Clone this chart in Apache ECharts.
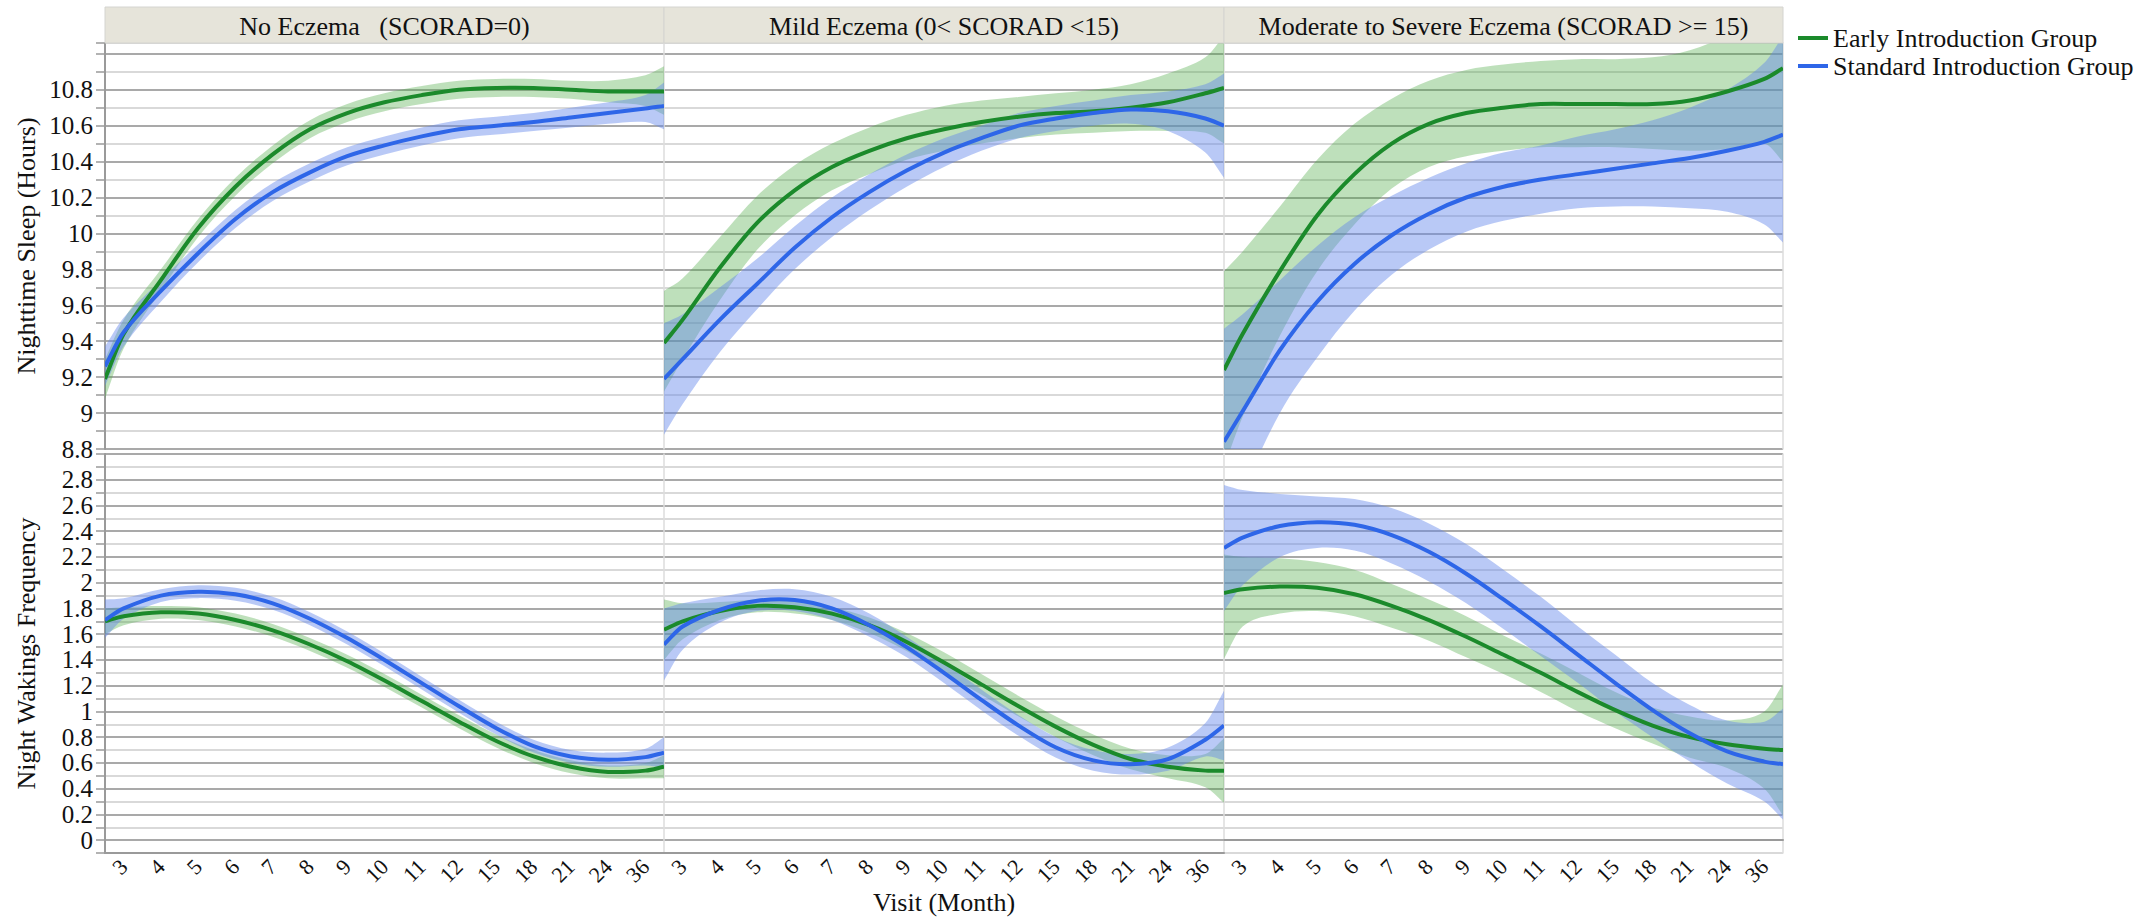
<!DOCTYPE html>
<html>
<head>
<meta charset="utf-8">
<script src="https://cdn.jsdelivr.net/npm/echarts@6.0.0/dist/echarts.min.js"></script>
<style>
html, body { margin: 0; padding: 0; background: #fff; }
#main { width: 2134px; height: 924px; }
</style>
</head>
<body>
<div id="main"></div>
<script>
var myChart = echarts.init(document.getElementById('main'), null, { renderer: 'svg' });

var visits = ['3', '4', '5', '6', '7', '8', '9', '10', '11', '12', '15', '18', '21', '24', '36'];
var panels = ['No Eczema \u00a0 (SCORAD=0)', 'Mild Eczema (0< SCORAD <15)', 'Moderate to Severe Eczema (SCORAD >= 15)'];
var groups = ['Early Introduction Group', 'Standard Introduction Group'];

// every array: value at left panel edge, at each visit, at right panel edge
// Nighttime sleep (hours)
var sleepNoEarly     = [9.19, 9.44, 9.74, 10.03, 10.26, 10.44, 10.58, 10.67, 10.73, 10.77, 10.80, 10.81, 10.81, 10.80, 10.79, 10.79, 10.79];
var sleepNoEarlyHi   = [9.30, 9.52, 9.80, 10.08, 10.31, 10.49, 10.63, 10.72, 10.78, 10.82, 10.85, 10.86, 10.86, 10.85, 10.85, 10.88, 10.93];
var sleepNoEarlyLo   = [9.08, 9.36, 9.68, 9.98, 10.21, 10.39, 10.53, 10.62, 10.68, 10.72, 10.75, 10.76, 10.76, 10.75, 10.73, 10.71, 10.66];
var sleepNoStd       = [9.26, 9.45, 9.68, 9.89, 10.08, 10.23, 10.34, 10.43, 10.49, 10.54, 10.58, 10.60, 10.62, 10.645, 10.67, 10.695, 10.71];
var sleepNoStdHi     = [9.37, 9.53, 9.74, 9.94, 10.13, 10.28, 10.39, 10.48, 10.54, 10.59, 10.63, 10.65, 10.67, 10.70, 10.73, 10.77, 10.84];
var sleepNoStdLo     = [9.15, 9.37, 9.62, 9.84, 10.03, 10.18, 10.29, 10.38, 10.44, 10.49, 10.53, 10.55, 10.57, 10.59, 10.61, 10.62, 10.58];

var sleepMildEarly   = [9.39, 9.52, 9.81, 10.06, 10.24, 10.37, 10.46, 10.53, 10.58, 10.62, 10.65, 10.67, 10.68, 10.70, 10.73, 10.78, 10.81];
var sleepMildEarlyHi = [9.68, 9.75, 9.98, 10.21, 10.38, 10.50, 10.59, 10.66, 10.71, 10.74, 10.76, 10.78, 10.80, 10.83, 10.89, 10.98, 11.10];
var sleepMildEarlyLo = [9.12, 9.30, 9.63, 9.91, 10.10, 10.24, 10.33, 10.41, 10.46, 10.50, 10.53, 10.55, 10.56, 10.57, 10.57, 10.56, 10.50];
var sleepMildStd     = [9.19, 9.30, 9.52, 9.72, 9.92, 10.09, 10.23, 10.35, 10.45, 10.53, 10.60, 10.64, 10.67, 10.69, 10.68, 10.64, 10.60];
var sleepMildStdHi   = [9.50, 9.55, 9.70, 9.86, 10.04, 10.20, 10.33, 10.44, 10.53, 10.60, 10.67, 10.71, 10.74, 10.77, 10.79, 10.83, 10.89];
var sleepMildStdLo   = [8.88, 9.05, 9.34, 9.58, 9.80, 9.98, 10.13, 10.26, 10.37, 10.46, 10.53, 10.57, 10.60, 10.61, 10.57, 10.45, 10.31];

var sleepModEarly    = [9.24, 9.44, 9.79, 10.10, 10.33, 10.50, 10.61, 10.67, 10.70, 10.72, 10.72, 10.72, 10.72, 10.74, 10.79, 10.86, 10.92];
var sleepModEarlyHi  = [9.79, 9.90, 10.15, 10.41, 10.61, 10.75, 10.85, 10.91, 10.94, 10.96, 10.97, 10.97, 10.98, 11.02, 11.10, 11.20, 11.30];
var sleepModEarlyLo  = [8.70, 8.98, 9.43, 9.79, 10.05, 10.25, 10.37, 10.43, 10.46, 10.48, 10.48, 10.48, 10.47, 10.46, 10.47, 10.50, 10.40];
var sleepModStd      = [8.84, 9.01, 9.35, 9.62, 9.83, 9.99, 10.11, 10.20, 10.26, 10.30, 10.33, 10.36, 10.39, 10.42, 10.46, 10.51, 10.55];
var sleepModStdHi    = [9.47, 9.55, 9.74, 9.93, 10.09, 10.21, 10.31, 10.39, 10.45, 10.49, 10.54, 10.58, 10.63, 10.70, 10.80, 10.95, 11.10];
var sleepModStdLo    = [8.21, 8.55, 9.00, 9.31, 9.57, 9.77, 9.91, 10.01, 10.07, 10.11, 10.14, 10.15, 10.15, 10.14, 10.12, 10.05, 9.95];

// Night wakings frequency
var wakeNoEarly      = [1.70, 1.74, 1.77, 1.76, 1.71, 1.63, 1.52, 1.39, 1.24, 1.08, 0.92, 0.77, 0.65, 0.57, 0.53, 0.54, 0.57];
var wakeNoEarlyHi    = [1.80, 1.81, 1.82, 1.81, 1.76, 1.68, 1.57, 1.44, 1.29, 1.13, 0.97, 0.82, 0.70, 0.62, 0.58, 0.60, 0.66];
var wakeNoEarlyLo    = [1.60, 1.67, 1.72, 1.71, 1.66, 1.58, 1.47, 1.34, 1.19, 1.03, 0.87, 0.72, 0.60, 0.52, 0.48, 0.48, 0.48];
var wakeNoStd        = [1.71, 1.80, 1.90, 1.93, 1.91, 1.84, 1.72, 1.57, 1.40, 1.22, 1.04, 0.87, 0.73, 0.65, 0.625, 0.645, 0.68];
var wakeNoStdHi      = [1.87, 1.88, 1.95, 1.98, 1.96, 1.89, 1.77, 1.62, 1.45, 1.27, 1.09, 0.92, 0.78, 0.70, 0.68, 0.71, 0.80];
var wakeNoStdLo      = [1.57, 1.72, 1.85, 1.88, 1.86, 1.79, 1.67, 1.52, 1.35, 1.17, 0.99, 0.82, 0.68, 0.60, 0.57, 0.58, 0.56];

var wakeMildEarly    = [1.635, 1.70, 1.78, 1.82, 1.81, 1.76, 1.67, 1.54, 1.38, 1.21, 1.04, 0.88, 0.74, 0.63, 0.57, 0.54, 0.54];
var wakeMildEarlyHi  = [1.87, 1.84, 1.85, 1.87, 1.86, 1.81, 1.73, 1.61, 1.46, 1.29, 1.12, 0.96, 0.82, 0.71, 0.66, 0.67, 0.79];
var wakeMildEarlyLo  = [1.40, 1.56, 1.71, 1.77, 1.76, 1.71, 1.61, 1.47, 1.30, 1.13, 0.96, 0.80, 0.66, 0.55, 0.48, 0.41, 0.29];
var wakeMildStd      = [1.52, 1.66, 1.79, 1.86, 1.865, 1.80, 1.67, 1.50, 1.30, 1.09, 0.89, 0.72, 0.62, 0.59, 0.63, 0.78, 0.89];
var wakeMildStdHi    = [1.80, 1.84, 1.89, 1.94, 1.95, 1.89, 1.76, 1.58, 1.38, 1.17, 0.97, 0.80, 0.70, 0.67, 0.72, 0.91, 1.16];
var wakeMildStdLo    = [1.24, 1.48, 1.69, 1.78, 1.78, 1.71, 1.58, 1.42, 1.22, 1.01, 0.81, 0.64, 0.54, 0.51, 0.54, 0.65, 0.62];

var wakeModEarly     = [1.92, 1.95, 1.97, 1.96, 1.91, 1.82, 1.71, 1.58, 1.44, 1.30, 1.15, 1.01, 0.89, 0.80, 0.745, 0.71, 0.70];
var wakeModEarlyHi   = [2.22, 2.20, 2.19, 2.16, 2.10, 1.99, 1.87, 1.74, 1.59, 1.45, 1.30, 1.15, 1.03, 0.96, 0.93, 1.00, 1.21];
var wakeModEarlyLo   = [1.41, 1.66, 1.76, 1.78, 1.74, 1.65, 1.55, 1.42, 1.29, 1.15, 1.00, 0.87, 0.75, 0.64, 0.56, 0.40, 0.19];
var wakeModStd       = [2.27, 2.35, 2.44, 2.47, 2.45, 2.37, 2.24, 2.07, 1.87, 1.66, 1.44, 1.22, 1.01, 0.83, 0.69, 0.61, 0.59];
var wakeModStdHi     = [2.76, 2.72, 2.69, 2.67, 2.65, 2.58, 2.46, 2.30, 2.10, 1.89, 1.66, 1.44, 1.22, 1.05, 0.93, 0.92, 1.02];
var wakeModStdLo     = [1.78, 1.98, 2.20, 2.27, 2.25, 2.15, 2.01, 1.84, 1.64, 1.43, 1.22, 1.00, 0.80, 0.61, 0.44, 0.30, 0.16];

var sleepTicks = { min: 8.8, max: 11.06, interval: 0.1 };
var wakeTicks = { min: -0.1, max: 3.0, interval: 0.1 };

var GREEN = '#1b8a2b', BLUE = '#2e66e8';
var GREEN_BAND = 'rgba(70,165,60,0.35)', BLUE_BAND = 'rgba(100,135,235,0.45)';
var FONT = 'Liberation Serif';

// x position of each sample: panel edge, visit centres, panel edge
var xs = [0];
visits.forEach(function (v, i) { xs.push(i + 0.5); });
xs.push(visits.length);

function pair(arr) {
    return arr.map(function (v, i) { return [xs[i], v]; });
}

// cubic hermite through pixel points, tangents from neighbours
function splinePath(pts) {
    var n = pts.length, m = [];
    for (var i = 0; i < n; i++) {
        var a = pts[Math.max(i - 1, 0)], b = pts[Math.min(i + 1, n - 1)];
        m.push((b[1] - a[1]) / (b[0] - a[0]));
    }
    var d = '';
    for (var j = 0; j < n - 1; j++) {
        var p = pts[j], q = pts[j + 1], h = (q[0] - p[0]) / 3;
        d += ' C' + (p[0] + h) + ',' + (p[1] + m[j] * h) + ' ' + (q[0] - h) + ',' + (q[1] - m[j + 1] * h) + ' ' + q[0] + ',' + q[1];
    }
    return d;
}

function toPixels(api, arr) {
    return arr.map(function (v, i) { return api.coord([xs[i], v]); });
}

function bandSeries(k, hi, lo, color, z) {
    return {
        type: 'custom', xAxisIndex: k, yAxisIndex: k, data: pair(hi), clip: true, silent: true, z: z,
        renderItem: function (params, api) {
            if (params.dataIndex !== 0) return null;
            var up = toPixels(api, hi);
            var dn = toPixels(api, lo).reverse();
            var d = 'M' + up[0][0] + ',' + up[0][1] + splinePath(up) +
                ' L' + dn[0][0] + ',' + dn[0][1] + splinePath(dn) + ' Z';
            return { type: 'path', shape: { pathData: d }, style: { fill: color, stroke: null } };
        }
    };
}

function lineSeries(k, name, vals, color, z) {
    return {
        name: name, type: 'custom', xAxisIndex: k, yAxisIndex: k, data: pair(vals), clip: true, z: z,
        itemStyle: { color: color },
        renderItem: function (params, api) {
            if (params.dataIndex !== 0) return null;
            var p = toPixels(api, vals);
            var d = 'M' + p[0][0] + ',' + p[0][1] + splinePath(p);
            return { type: 'path', shape: { pathData: d }, style: { fill: null, stroke: color, lineWidth: 4 } };
        }
    };
}

var cells = [
    [sleepNoEarly, sleepNoEarlyHi, sleepNoEarlyLo, sleepNoStd, sleepNoStdHi, sleepNoStdLo],
    [sleepMildEarly, sleepMildEarlyHi, sleepMildEarlyLo, sleepMildStd, sleepMildStdHi, sleepMildStdLo],
    [sleepModEarly, sleepModEarlyHi, sleepModEarlyLo, sleepModStd, sleepModStdHi, sleepModStdLo],
    [wakeNoEarly, wakeNoEarlyHi, wakeNoEarlyLo, wakeNoStd, wakeNoStdHi, wakeNoStdLo],
    [wakeMildEarly, wakeMildEarlyHi, wakeMildEarlyLo, wakeMildStd, wakeMildStdHi, wakeMildStdLo],
    [wakeModEarly, wakeModEarlyHi, wakeModEarlyLo, wakeModStd, wakeModStdHi, wakeModStdLo]
];

var panelLeft = [105, 664, 1224];
var panelWidth = [559, 560, 559];
var rowTop = [43, 454];
var rowHeight = [406, 399];

function tickLabel(maxT) {
    return function (v) {
        var t = Math.round(v * 10);
        if (t % 2 !== 0 || t > maxT || t < 0) return '';
        return String(t / 10);
    };
}

var grids = [], xAxes = [], yAxes = [], series = [], graphics = [];

for (var k = 0; k < 6; k++) {
    var row = Math.floor(k / 3), col = k % 3;
    grids.push({ left: panelLeft[col], top: rowTop[row], width: panelWidth[col], height: rowHeight[row] });
    xAxes.push({ type: 'value', gridIndex: k, min: 0, max: visits.length, show: false });
    var ticks = row === 0 ? sleepTicks : wakeTicks;
    yAxes.push({
        type: 'value', gridIndex: k, min: ticks.min, max: ticks.max, interval: ticks.interval,
        name: col === 0 ? (row === 0 ? 'Nighttime Sleep (Hours)' : 'Night Wakings Frequency') : '',
        nameLocation: 'middle', nameGap: 66, nameRotate: 90,
        nameTextStyle: { fontFamily: FONT, fontSize: 26, color: '#111' },
        axisLine: { show: true, lineStyle: { color: col === 0 ? '#9a9a9a' : '#dcdcdc', width: col === 0 ? 2 : 1.5 } },
        axisTick: { show: col === 0, length: 9, lineStyle: { color: '#9a9a9a', width: 1.5 } },
        axisLabel: {
            show: col === 0, margin: 12, fontFamily: FONT, fontSize: 25, color: '#111',
            formatter: tickLabel(row === 0 ? 108 : 28)
        },
        splitLine: {
            show: true,
            lineStyle: { width: 2, color: row === 0 ? ['#a9a9a9', '#d9d9d9'] : ['#d9d9d9', '#a9a9a9'] }
        }
    });

    var d = cells[k];
    series.push(
        bandSeries(k, d[1], d[2], GREEN_BAND, 2),
        bandSeries(k, d[4], d[5], BLUE_BAND, 3),
        lineSeries(k, groups[0], d[0], GREEN, 5),
        lineSeries(k, groups[1], d[3], BLUE, 6)
    );
}

// category axes carrying the visit labels under the lower panels
for (var c = 0; c < 3; c++) {
    xAxes.push({
        type: 'category', gridIndex: 3 + c, data: visits, boundaryGap: true, position: 'bottom',
        name: c === 1 ? 'Visit (Month)' : '', nameLocation: 'middle', nameGap: 36,
        nameTextStyle: { fontFamily: FONT, fontSize: 26, color: '#111' },
        axisLine: { show: true, lineStyle: { color: '#9a9a9a', width: 2 } },
        axisTick: { show: false },
        axisLabel: { rotate: 45, margin: 10, fontFamily: FONT, fontSize: 22, color: '#111', interval: 0 },
        splitLine: { show: false }
    });
}
// right border of the last column
[2, 5].forEach(function (g) {
    var ticks = g === 2 ? sleepTicks : wakeTicks;
    yAxes.push({
        type: 'value', gridIndex: g, position: 'right', min: ticks.min, max: ticks.max, interval: ticks.interval,
        axisLine: { show: true, lineStyle: { color: '#dcdcdc', width: 1.5 } },
        axisTick: { show: false }, axisLabel: { show: false }, splitLine: { show: false }
    });
});

// strip headers
for (var h = 0; h < 3; h++) {
    graphics.push({
        type: 'rect', z: 10,
        shape: { x: panelLeft[h], y: 7, width: panelWidth[h], height: 36 },
        style: { fill: '#e6e4da', stroke: '#d4d4d0', lineWidth: 1 }
    });
    graphics.push({
        type: 'text', z: 11, x: panelLeft[h] + panelWidth[h] / 2, y: 26,
        style: { text: panels[h], font: '26px "Liberation Serif"', fill: '#111', align: 'center', verticalAlign: 'middle' }
    });
}

myChart.setOption({
    backgroundColor: '#fff',
    animation: false,
    grid: grids,
    xAxis: xAxes,
    yAxis: yAxes,
    legend: {
        data: [
            { name: groups[0], itemStyle: { color: GREEN } },
            { name: groups[1], itemStyle: { color: BLUE } }
        ],
        orient: 'vertical', left: 1793, top: 20,
        icon: 'rect', itemWidth: 30, itemHeight: 4, itemGap: 2,
        textStyle: { fontFamily: FONT, fontSize: 26, color: '#111' }
    },
    graphic: graphics,
    series: series
});
</script>
</body>
</html>
